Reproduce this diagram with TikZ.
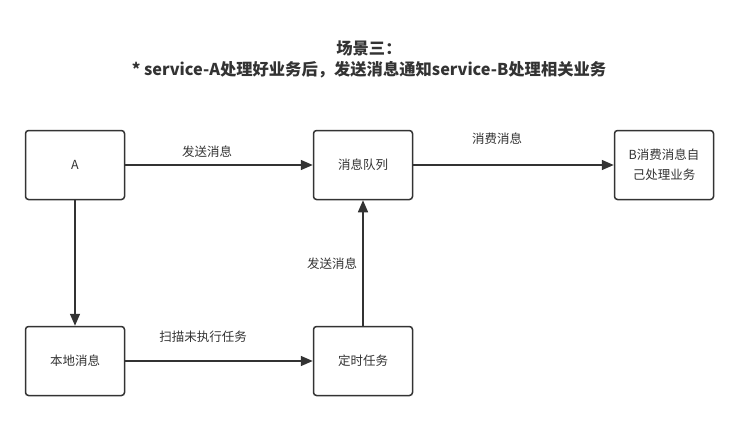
\documentclass[tikz,border=0pt]{standalone}
\usepackage{fontspec}
\setmainfont{Noto Sans CJK SC}
\usepackage{xcolor}
\usepackage{tikz}
\usetikzlibrary{arrows.meta,positioning,backgrounds}
\definecolor{linegray}{HTML}{333333}
\tikzset{
  box/.style={draw=linegray, line width=1.5pt, rounded corners=3pt,
    minimum width=99pt, minimum height=69pt, text=linegray,
    font=\fontsize{12.5}{20}\selectfont, align=center, inner sep=2pt},
  flow/.style={draw=linegray, line width=1.5pt,
    -{Triangle[length=12pt,width=10pt]}},
  lbl/.style={text=linegray, font=\fontsize{12.5}{15}\selectfont, inner sep=0pt}
}
\begin{document}
\begin{tikzpicture}
\useasboundingbox[fill=white] (0pt,0pt) rectangle (740pt,-421pt);
% title
\node[text=linegray, font=\fontsize{16.3}{21}\bfseries\selectfont, align=center] (title) at (369pt,-59pt)
  {场景三：\\* service-A处理好业务后，发送消息通知service-B处理相关业务};
% boxes
\node[box] (a) at (75pt,-165pt) {A};
\node[box] (queue) at (363pt,-165pt) {消息队列};
\node[box] (b) at (664pt,-165pt) {B消费消息自\\己处理业务};
\node[box] (local) at (75pt,-361pt) {本地消息};
\node[box] (timer) at (363pt,-361pt) {定时任务};
% connectors
\draw[flow] (a) -- (queue);
\draw[flow] (queue) -- (b);
\draw[flow] (a) -- (local);
\draw[flow] (local) -- (timer);
\draw[flow] (timer) -- (queue);
% labels
\node[lbl] (l1) at (207pt,-152pt) {发送消息};
\node[lbl] (l2) at (497pt,-139pt) {消费消息};
\node[lbl] (l3) at (203pt,-337pt) {扫描未执行任务};
\node[lbl] (l4) at (332pt,-264pt) {发送消息};
\end{tikzpicture}
\end{document}
